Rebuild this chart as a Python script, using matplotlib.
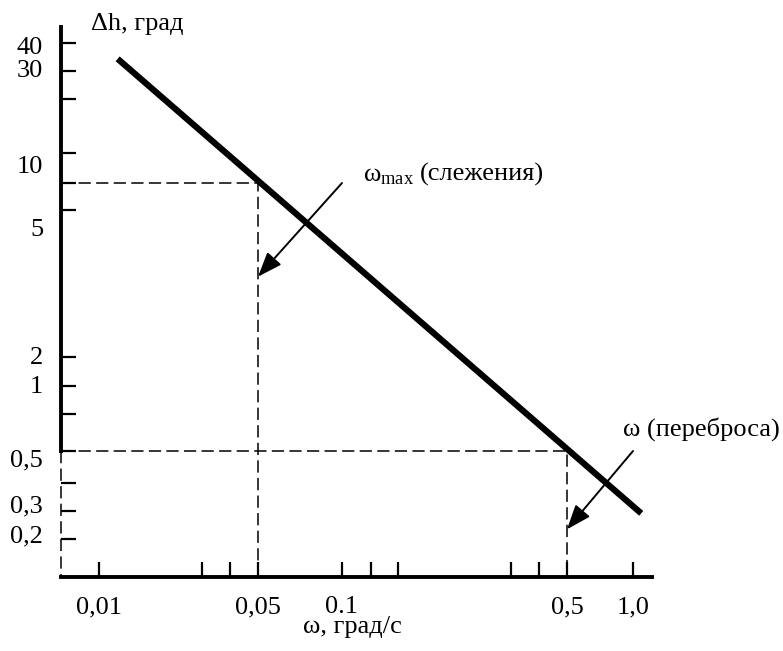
import numpy as np
import matplotlib.pyplot as plt

plt.rcParams.update({'font.family': 'Liberation Serif', 'font.size': 19,
                     'mathtext.fontset': 'custom',
                     'mathtext.rm': 'Liberation Serif',
                     'mathtext.it': 'Liberation Serif'})

# --- data ---
x_ticks = [0.01, 0.03, 0.04, 0.05, 0.1, 0.15, 0.2, 0.3, 0.4, 0.5, 1.0]
x_labels = ['0,01', '', '', '0,05', '0.1', '', '', '', '', '0,5', '1,0']
y_ticks = [40, 30, 20, 10, 7, 5, 2, 1, 0.7, 0.5, 0.4, 0.3, 0.2]
y_labels = ['40', '30', '', '10', '', '5', '2', '1', '', '0,5', '', '0,3', '0,2']

line_w = [0.0122, 1.09]      # omega, deg/s
line_dh = [34.0, 0.29]       # delta h, deg
w_track, dh_track = 0.05, 7
w_flip, dh_flip = 0.5, 0.5
arrow_track = ((0.1, 7), (0.05, 3.3))    # (tail, head)
arrow_flip = ((1.0, 0.5), (0.5, 0.23))

# --- layout of the hand drawn axes (pixels of the drawing) ---
W, H = 783, 651
x0, x1, y0, y1 = 61, 652, 577, 27
x_tick_px = [99, 202, 230, 258, 342, 371, 398, 511, 539, 567, 633]
y_tick_px = [43, 71, 99, 153, 183, 210, 357, 386, 414, 451, 483, 511, 539]
y_label_dy = [2, -3, 0, 11, 0, 17, -2, -2, 0, 6, 0, -8, -6]


def piecewise(xp, fp):
    xp = np.asarray(xp, float)
    fp = np.asarray(fp, float)

    def f(x):
        x = np.asarray(x, float)
        out = np.interp(x, xp, fp)
        lo = fp[0] + (x - xp[0]) * (fp[1] - fp[0]) / (xp[1] - xp[0])
        hi = fp[-1] + (x - xp[-1]) * (fp[-1] - fp[-2]) / (xp[-1] - xp[-2])
        return np.where(x < xp[0], lo, np.where(x > xp[-1], hi, out))
    return f


def make_scale(vals, pos):
    order = np.argsort(vals)
    lv = np.log10(np.asarray(vals, float)[order])
    p = np.asarray(pos, float)[order]
    fwd_, inv_ = piecewise(lv, p), piecewise(p, lv)
    return (lambda v: fwd_(np.log10(np.maximum(v, 1e-12))),
            lambda s: 10 ** inv_(s))


def fig_px(x, y):
    return x / W, 1 - y / H


xs = make_scale(x_ticks, [p - x0 for p in x_tick_px])
ys = make_scale(y_ticks, [y0 - p for p in y_tick_px])

fig = plt.figure(figsize=(W / 100, H / 100), dpi=100)
ax = fig.add_axes([x0 / W, 1 - y0 / H, (x1 - x0) / W, (y0 - y1) / H])
ax.set_xscale('function', functions=xs)
ax.set_yscale('function', functions=ys)
xmin, xmax = float(xs[1](0)), float(xs[1](x1 - x0))
ymin, ymax = float(ys[1](0)), float(ys[1](y0 - y1))
ax.set_xlim(xmin, xmax)
ax.set_ylim(ymin, ymax)

ax.set_xticks(x_ticks)
ax.set_yticks(y_ticks)
ax.minorticks_off()
ax.tick_params(direction='in', length=11, width=1.6, color='black',
               labelbottom=False, labelleft=False)
for s in ['top', 'right']:
    ax.spines[s].set_visible(False)
for s in ['left', 'bottom']:
    ax.spines[s].set_linewidth(2.8)
    ax.spines[s].set_capstyle('projecting')
ax.spines['left'].set_bounds(dh_flip, ymax)

# tick labels
for v, lbl, dy in zip(y_ticks, y_labels, y_label_dy):
    if lbl:
        ax.annotate(lbl, xy=(0, v), xycoords=('axes fraction', 'data'),
                    xytext=(-(x0 - 43) * 0.72, -(dy + 9) * 0.72),
                    textcoords='offset points', ha='right', va='baseline')
for v, lbl in zip(x_ticks, x_labels):
    if lbl:
        ax.annotate(lbl, xy=(v, 0), xycoords=('data', 'axes fraction'),
                    xytext=(0, -(613 - y0) * 0.72),
                    textcoords='offset points', ha='center', va='baseline')

# dashed guides
dash = dict(color='black', lw=1.1, ls=(0, (8, 3.5)), clip_on=False)
ax.plot([xmin, w_track, w_track], [dh_track, dh_track, ymin], **dash)
ax.plot([xmin, w_flip, w_flip], [dh_flip, dh_flip, ymin], **dash)
ax.plot([xmin, xmin], [dh_flip, ymin], **dash)

# main characteristic
ax.plot(line_w, line_dh, color='black', lw=4.5, solid_capstyle='butt')

# arrows
for tail, head in [arrow_track, arrow_flip]:
    ax.annotate('', xy=head, xytext=tail,
                arrowprops=dict(arrowstyle='-|>,head_length=1.0,head_width=0.38',
                                color='black', lw=1.4, mutation_scale=15,
                                shrinkA=0, shrinkB=0))

fig.text(*fig_px(91, 30), 'Δh, град', ha='left', va='baseline')
fig.text(*fig_px(352, 633), 'ω, град/с', ha='center', va='baseline')
fig.text(*fig_px(363, 181), 'ω$_{\\mathrm{max}}$', ha='left', va='baseline')
fig.text(*fig_px(420, 181), '(слежения)', ha='left', va='baseline')
fig.text(*fig_px(623, 436), 'ω (переброса)', ha='left', va='baseline')

fig.savefig('out.png', dpi=100)
